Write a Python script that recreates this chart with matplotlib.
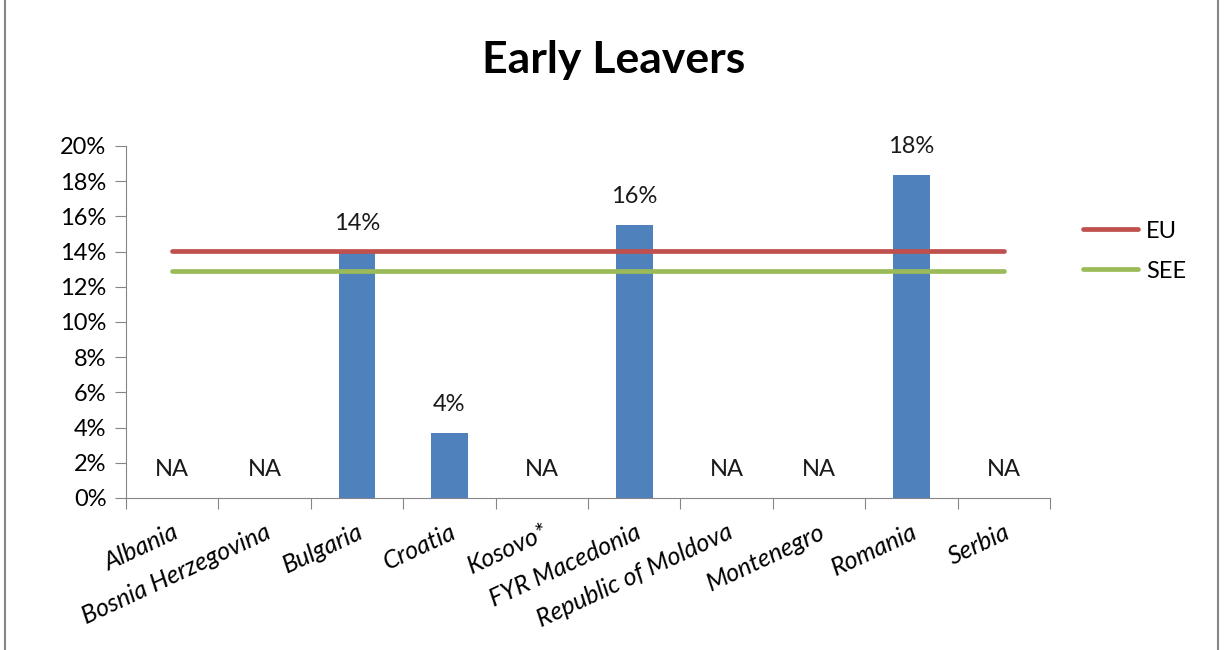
import matplotlib.pyplot as plt
from matplotlib.patches import Rectangle

plt.rcParams['font.family'] = ['Lato', 'DejaVu Sans']

paises = ['Albania', 'Bosnia Herzegovina', 'Bulgaria', 'Croatia', 'Kosovo*',
          'FYR Macedonia', 'Republic of Moldova', 'Montenegro', 'Romania', 'Serbia']
valores = [None, None, 14.0, 3.7, None, 15.5, None, None, 18.35, None]
rotulos = ['NA', 'NA', '14%', '4%', 'NA', '16%', 'NA', 'NA', '18%', 'NA']
eu = 14.05
see = 12.9

fig = plt.figure(figsize=(12.24, 6.5), dpi=100)
ax = fig.add_axes([126/1224, 1 - 498/650, 924/1224, 352/650])

x = list(range(len(paises)))
alturas = [v if v is not None else 0 for v in valores]
ax.bar(x, alturas, width=0.4, color='#4F81BD', zorder=2)

ax.plot([x[0], x[-1]], [eu, eu], color='#C0504D', lw=3.4, solid_capstyle='round', label='EU', zorder=3)
ax.plot([x[0], x[-1]], [see, see], color='#9BBB59', lw=3.4, solid_capstyle='round', label='SEE', zorder=3)

for xi, h, r in zip(x, alturas, rotulos):
    ax.annotate(r, (xi, h), xytext=(0, 13), textcoords='offset points',
                ha='center', va='bottom', fontsize=17, color='#1a1a1a')

ax.set_xlim(-0.5, len(paises) - 0.5)
ax.set_ylim(0, 20)
ax.set_yticks(range(0, 21, 2))
ax.set_yticklabels([f'{v}%' for v in range(0, 21, 2)], fontsize=17)
ax.set_xticks([i - 0.5 for i in range(len(paises) + 1)], minor=False)
ax.set_xticklabels([])
ax.set_xticks(x, minor=True)
ax.set_xticklabels(paises, minor=True, fontsize=18, rotation=25, ha='right',
                   rotation_mode='anchor', style='italic')
ax.tick_params(axis='x', which='minor', length=0, pad=16)
ax.tick_params(axis='x', which='major', length=8, color='#868686')
ax.tick_params(axis='y', length=8, color='#868686', pad=6)
for s in ['top', 'right']:
    ax.spines[s].set_visible(False)
for s in ['left', 'bottom']:
    ax.spines[s].set_color('#868686')

ax.legend(loc='upper left', bbox_to_anchor=(1.013, 0.848), frameon=False, fontsize=17,
          handlelength=2.3, handletextpad=0.35, labelspacing=0.8)

fig.text(614/1224, 1 - 60/650, 'Early Leavers', ha='center', va='center',
         fontsize=32, fontweight='bold')
fig.patches.append(Rectangle((5/1224, -0.01), 1213/1224, 1.02, transform=fig.transFigure,
                             fill=False, edgecolor='#868686', lw=1.5))

fig.savefig('out.png', dpi=100)
